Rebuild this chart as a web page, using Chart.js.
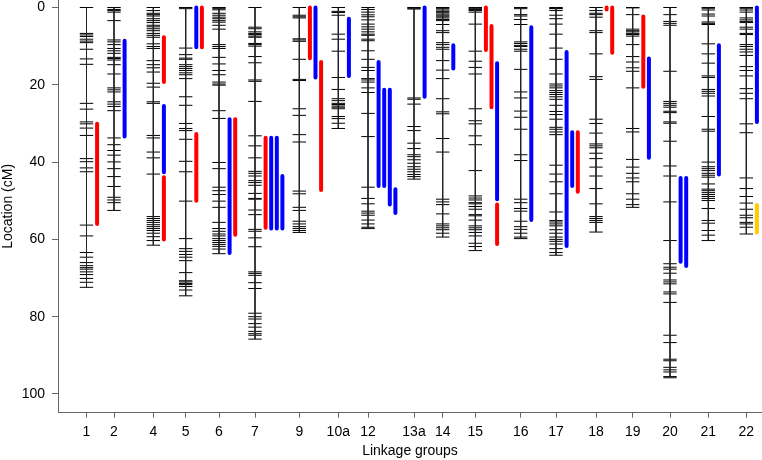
<!DOCTYPE html>
<html lang="en">

<head>
    <meta charset="UTF-8">
    <title>Linkage map</title>
    <script src="https://cdn.jsdelivr.net/npm/chart.js"></script>
    <style>
        body { margin: 0; background: #fff; }
    </style>
</head>

<body>
    <canvas id="mapa" width="762" height="460"></canvas>

<script>
    // linkage groups and where they sit along the x axis
    const groups = ['1', '2', '4', '5', '6', '7', '9', '10a', '12', '13a', '14', '15', '16', '17', '18', '19', '20', '21', '22'];
    const groupX = [28.5, 56, 95.3, 127.7, 161, 197, 241.3, 280.3, 310, 356, 384.7, 417.3, 462.7, 498, 538, 574.7, 612, 650.3, 688.3];

    // marker positions (cM), one list per group
    const markers = [
        [0, 6.7, 7.1, 7.5, 8.2, 8.7, 9.1, 10.8, 13.3, 14.7, 24.8, 26.3, 29.6, 30.1, 31.2, 33.1, 39.1, 39.9, 41.5, 42.5, 56.3, 59.1, 63.4, 64.6, 66.0, 66.8, 67.3, 67.7, 68.4, 69.1, 70.1, 71.1, 72.4],
        [0, 0.5, 0.8, 1.2, 3.4, 8.4, 8.9, 9.6, 10.6, 11.2, 11.85, 12.9, 13.2, 13.6, 14.8, 17.2, 20.8, 21.3, 21.85, 24.4, 25.0, 25.6, 26.7, 33.75, 35.5, 37.0, 38.2, 39.95, 41.7, 43.75, 46.3, 49.1, 49.8, 50.5, 52.5],
        [0, 0.8, 1.5, 1.85, 2.2, 2.9, 3.4, 3.9, 4.6, 5.0, 5.5, 6.0, 6.7, 7.2, 7.7, 9.4, 10.1, 10.6, 13.75, 14.8, 15.6, 16.7, 19.6, 20.6, 24.4, 24.8, 33.1, 33.75, 37.4, 38.9, 43.1, 54.1, 54.6, 55.1, 55.6, 56.2, 56.7, 57.2, 57.7, 58.4, 59.3, 60.3, 61.5],
        [0, 0.3, 10.5, 12.2, 13.1, 13.4, 14.8, 15.3, 15.8, 16.3, 16.9, 17.4, 18.4, 23.1, 25.3, 30.0, 31.3, 31.85, 34.1, 39.8, 42.5, 50.1, 59.8, 62.4, 63.1, 63.9, 64.6, 65.5, 68.6, 70.7, 71.0, 71.4, 71.7, 72.2, 73.1, 74.6],
        [0, 0.3, 0.6, 1.5, 2.0, 2.5, 2.9, 3.4, 3.8, 4.6, 5.6, 9.6, 10.1, 10.6, 12.9, 14.6, 16.3, 17.4, 19.3, 19.8, 20.1, 26.7, 28.7, 40.1, 41.7, 46.5, 47.4, 48.4, 50.1, 51.7, 55.6, 57.2, 57.9, 58.6, 59.1, 59.8, 60.3, 60.8, 61.3, 61.8, 62.5, 63.7],
        [0, 5.1, 5.5, 6.3, 6.7, 7.0, 7.4, 7.7, 9.3, 9.6, 10.0, 12.7, 14.3, 18.75, 19.1, 24.3, 33.2, 35.8, 38.9, 42.4, 42.9, 43.6, 44.8, 45.3, 46.0, 48.1, 49.4, 49.6, 52.4, 53.6, 57.4, 57.9, 59.6, 61.9, 68.4, 68.8, 69.3, 71.2, 72.7, 79.1, 80.0, 80.6, 81.8, 82.7, 83.8, 84.4, 84.8, 85.8],
        [0, 2.0, 2.4, 2.7, 8.1, 8.4, 8.75, 13.4, 18.6, 18.9, 26.2, 27.9, 32.9, 34.8, 47.5, 48.2, 51.7, 52.5, 55.3, 56.0, 56.7, 57.2, 57.7, 58.2],
        [0, 1.0, 1.3, 2.0, 6.9, 8.2, 11.3, 18.1, 21.2, 23.6, 24.1, 24.8, 25.1, 25.5, 25.8, 26.2, 28.2, 28.75, 29.95, 31.3],
        [0, 0.5, 1.2, 1.9, 2.4, 3.2, 4.3, 5.0, 5.6, 6.3, 6.9, 7.2, 8.2, 8.6, 11.2, 13.4, 15.5, 16.3, 18.4, 18.75, 19.3, 20.8, 22.0, 27.4, 33.4, 46.5, 49.4, 50.8, 52.7, 53.2, 53.75, 55.0, 56.0, 56.85, 57.2],
        [0, 0.2, 0.4, 23.4, 23.75, 25.0, 30.8, 31.85, 35.1, 36.5, 38.1, 38.6, 39.4, 40.3, 41.2, 41.85, 42.5, 43.2, 43.75, 44.4],
        [0, 0.3, 0.65, 1.0, 1.35, 1.7, 2.0, 2.4, 2.7, 3.1, 3.4, 4.4, 6.0, 6.5, 9.1, 9.6, 10.3, 10.8, 13.75, 16.2, 18.4, 23.6, 27.0, 27.5, 33.9, 37.4, 49.6, 50.3, 51.0, 53.4, 56.0, 56.5, 57.0, 57.5, 58.4, 59.4],
        [0, 0.3, 0.5, 0.8, 1.2, 4.3, 11.3, 13.9, 15.5, 17.2, 26.2, 29.3, 30.1, 33.2, 35.5, 42.2, 48.75, 49.3, 49.8, 50.5, 50.8, 51.5, 52.2, 53.6, 53.9, 55.0, 56.5, 57.0, 57.5, 58.2, 59.1, 61.0, 61.85, 62.9],
        [0, 0.3, 1.85, 2.2, 3.1, 4.4, 8.9, 9.3, 9.8, 10.1, 10.8, 11.3, 16.0, 21.85, 23.4, 26.8, 28.4, 31.5, 38.1, 39.6, 49.6, 50.5, 52.0, 52.7, 55.3, 56.7, 57.4, 58.4, 59.4, 59.8],
        [0, 0.2, 0.3, 0.8, 2.0, 2.9, 4.3, 6.9, 10.5, 13.4, 17.2, 19.8, 20.3, 20.8, 21.5, 22.0, 22.5, 23.1, 23.75, 25.3, 26.9, 27.7, 28.9, 31.0, 31.5, 32.2, 32.9, 40.8, 43.1, 45.1, 48.2, 52.9, 55.1, 55.5, 56.0, 56.5, 57.5, 58.4, 59.4, 60.0, 60.5, 61.2, 62.4, 63.4, 64.1],
        [0, 0.8, 1.5, 1.85, 2.5, 6.0, 6.5, 12.0, 17.9, 18.6, 28.9, 30.0, 32.5, 35.3, 35.8, 36.3, 37.7, 39.1, 41.3, 43.6, 46.85, 50.8, 54.1, 54.6, 55.1, 55.6, 58.1],
        [0, 0.1, 1.85, 5.6, 6.0, 6.3, 6.7, 7.0, 7.4, 9.6, 12.7, 14.1, 15.6, 16.5, 20.8, 31.3, 32.2, 39.3, 41.3, 42.9, 44.1, 45.1, 48.2, 49.6, 51.0, 51.7],
        [0, 1.85, 3.6, 4.1, 4.6, 16.5, 24.3, 24.8, 25.3, 25.8, 26.85, 27.2, 29.6, 29.95, 34.6, 41.0, 43.6, 50.3, 60.3, 66.3, 67.2, 67.7, 68.75, 70.5, 71.0, 71.5, 73.6, 74.1, 76.3, 84.8, 86.7, 91.0, 91.4, 93.1, 93.75, 94.3, 95.5, 95.8],
        [0, 0.2, 0.65, 1.7, 2.2, 3.75, 4.1, 4.4, 9.4, 12.0, 14.4, 17.7, 18.1, 21.2, 21.7, 22.2, 22.9, 28.2, 31.5, 32.0, 40.0, 41.2, 41.7, 42.2, 42.9, 43.4, 43.9, 45.65, 47.0, 47.4, 47.9, 48.4, 48.9, 49.4, 49.95, 52.0, 55.1, 55.8, 57.7, 58.9, 60.3],
        [0, 0.2, 0.65, 1.2, 2.7, 3.2, 3.6, 3.9, 5.1, 5.6, 6.7, 7.0, 9.6, 10.1, 10.8, 11.5, 12.4, 15.3, 16.3, 17.7, 21.0, 22.2, 23.6, 30.1, 32.4, 44.1, 46.85, 48.9, 50.6, 52.2, 53.75, 54.4, 55.6, 56.0, 56.85, 58.6]
    ];

    // QTL intervals: group, start, end (cM), column next to the group, trait
    const qtlGroup = ['1', '2', '4', '4', '4', '5', '5', '5', '6', '6', '7', '7', '7', '7', '9', '9', '9', '10a', '12', '12', '12', '12', '13a', '14', '15', '15', '15', '15', '16', '17', '17', '17', '18', '18', '19', '19', '20', '20', '21', '22', '22'];
    const qtlStart = [30.1, 8.6, 7.7, 25.5, 43.9, 0, 0, 32.7, 28.9, 28.9, 33.7, 33.7, 33.7, 43.6, 0, 0, 14.1, 2.9, 14.1, 21.3, 21.3, 47.0, 0, 9.8, 0, 4.8, 14.4, 51.0, 5.1, 11.5, 32.3, 32.3, 0, 0, 2.3, 13.2, 44.1, 44.1, 9.8, 0, 51.1];
    const qtlEnd = [56.0, 33.4, 19.3, 42.6, 60.0, 10.3, 10.3, 50.0, 63.5, 58.8, 57.0, 57.2, 57.2, 57.2, 13.1, 18.1, 47.2, 17.7, 46.2, 46.2, 51.0, 53.2, 23.1, 15.8, 11.0, 25.8, 49.6, 61.2, 55.0, 61.7, 46.2, 47.7, 0.5, 11.7, 20.5, 38.9, 65.8, 66.9, 43.2, 29.6, 58.2];
    const qtlCol = [0, 0, 0, 0, 0, 0, 1, 0, 0, 1, 0, 1, 2, 3, 0, 1, 2, 0, 0, 1, 2, 3, 0, 0, 0, 1, 2, 2, 0, 0, 1, 2, 0, 1, 0, 1, 0, 1, 0, 0, 0];
    const qtlTrait = ['r', 'b', 'r', 'b', 'r', 'b', 'r', 'r', 'b', 'r', 'r', 'b', 'b', 'b', 'r', 'b', 'r', 'b', 'b', 'b', 'b', 'b', 'b', 'b', 'r', 'r', 'b', 'r', 'b', 'b', 'b', 'r', 'r', 'r', 'r', 'b', 'b', 'b', 'b', 'b', 'y'];

    const yTicks = [0, 20, 40, 60, 80, 100];

    const corTrait = { r: '#FF0000', b: '#0000FF', y: '#FFCC00' };
    const fonte = "'Liberation Sans', Arial, sans-serif";

    Chart.defaults.font.family = fonte;
    Chart.defaults.font.size = 14;
    Chart.defaults.color = '#000';

    // tick labels drawn here, so Chart.js adds no label padding to the plot area
    const rotulosEixos = {
        id: 'rotulosEixos',
        afterDraw(chart) {
            const c = chart.ctx;
            const x = chart.scales.x;
            const y = chart.scales.y;
            c.save();
            c.font = '14px ' + fonte;
            c.fillStyle = '#000';
            c.textBaseline = 'middle';
            c.textAlign = 'center';
            groups.forEach((g, i) => {
                c.fillText(g, x.getPixelForValue(groupX[i]), x.top + 19);
            });
            c.textAlign = 'right';
            yTicks.forEach(v => {
                c.fillText(String(v), y.right - 13, y.getPixelForValue(v));
            });
            c.restore();
        }
    };

    function montarDatasets() {
        const lista = [];

        // QTL bars
        qtlGroup.forEach((g, k) => {
            const x = groupX[groups.indexOf(g)] + 10.6 + 5.6 * qtlCol[k];
            lista.push({
                type: 'line',
                data: [{ x: x, y: qtlStart[k] }, { x: x, y: qtlEnd[k] }],
                borderColor: corTrait[qtlTrait[k]],
                borderWidth: 4,
                borderCapStyle: 'round',
                pointRadius: 0
            });
        });

        // vertical line of each group
        groups.forEach((g, i) => {
            lista.push({
                type: 'line',
                data: [{ x: groupX[i], y: 0 }, { x: groupX[i], y: Math.max(...markers[i]) }],
                borderColor: '#222',
                borderWidth: 1,
                pointRadius: 0
            });
        });

        // markers
        lista.push({
            type: 'scatter',
            data: markers.flatMap((m, i) => m.map(cm => ({ x: groupX[i], y: cm }))),
            pointStyle: 'line',
            pointRadius: 6.7,
            pointBorderWidth: 1,
            pointBorderColor: '#000',
            pointBackgroundColor: '#000',
            clip: false
        });

        return lista;
    }

    const ctx = document.getElementById('mapa').getContext('2d');

    new Chart(ctx, {
        type: 'scatter',
        data: { datasets: montarDatasets() },
        plugins: [rotulosEixos],
        options: {
            responsive: false,
            animation: false,
            events: [],
            layout: { padding: 0, autoPadding: false },
            plugins: {
                legend: { display: false },
                tooltip: { enabled: false }
            },
            scales: {
                x: {
                    type: 'linear',
                    min: 0,
                    max: 704,
                    afterFit: s => { s.height = 47.3; },
                    afterBuildTicks: s => { s.ticks = groupX.map(v => ({ value: v })); },
                    ticks: { display: false },
                    grid: { drawOnChartArea: false, tickLength: 5, color: '#666' },
                    border: { color: '#666' },
                    title: { display: true, text: 'Linkage groups', padding: { top: 0, bottom: 0 } }
                },
                y: {
                    type: 'linear',
                    reverse: true,
                    min: -1.94,
                    max: 104.84,
                    afterFit: s => { s.width = 58; },
                    afterBuildTicks: s => { s.ticks = yTicks.map(v => ({ value: v })); },
                    ticks: { display: false },
                    grid: { drawOnChartArea: false, tickLength: 6, color: '#666' },
                    border: { color: '#666' },
                    title: { display: true, text: 'Location (cM)', padding: { top: 0, bottom: 0 } }
                }
            }
        }
    });
</script>
</body>

</html>
